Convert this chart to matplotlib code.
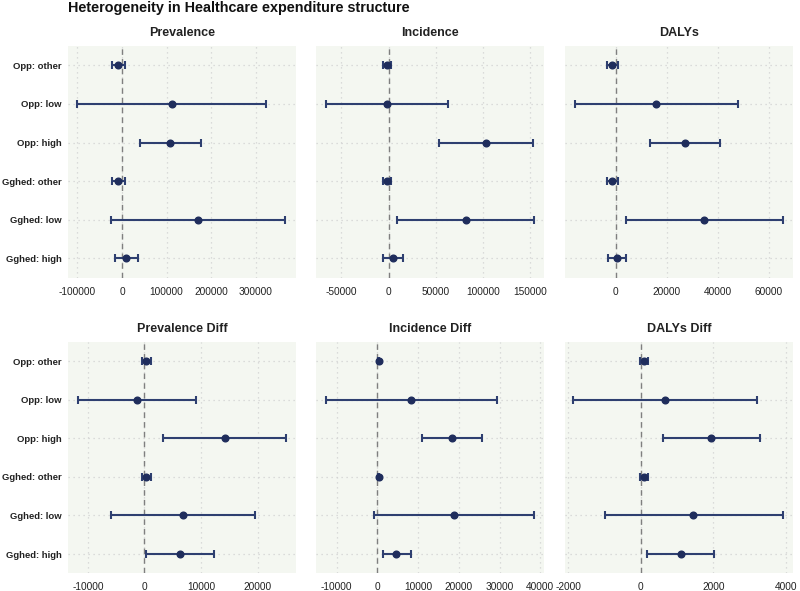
import matplotlib
matplotlib.use("Agg")
import matplotlib.pyplot as plt
import numpy as np

plt.rcParams['font.family'] = ['Liberation Sans', 'DejaVu Sans']

categories = ["Opp: other", "Opp: low", "Opp: high", "Gghed: other", "Gghed: low", "Gghed: high"]

panel_titles = ["Prevalence", "Incidence", "DALYs", "Prevalence Diff", "Incidence Diff", "DALYs Diff"]

prevalence_est = [-9000, 111000, 108000, -9000, 170000, 10000]
prevalence_lo = [-23000, -100000, 40000, -23000, -25000, -15000]
prevalence_hi = [6000, 322000, 177000, 6000, 366000, 37000]

incidence_est = [-2000, -2000, 102900, -2000, 81700, 4900]
incidence_lo = [-6300, -66300, 53900, -6300, 9500, -6300]
incidence_hi = [2400, 63000, 152500, 2400, 153600, 15400]

dalys_est = [-1400, 15900, 27100, -1400, 34700, 650]
dalys_lo = [-3300, -16000, 13400, -3300, 4200, -3000]
dalys_hi = [800, 48000, 40800, 800, 65600, 4200]

prev_diff_est = [350, -1360, 14200, 350, 6800, 6370]
prev_diff_lo = [-470, -11800, 3360, -470, -5900, 350]
prev_diff_hi = [1240, 9200, 25070, 1240, 19500, 12330]

inc_diff_est = [300, 8300, 18300, 300, 18800, 4660]
inc_diff_lo = [150, -12700, 10950, 150, -830, 1370]
inc_diff_hi = [450, 29300, 25770, 450, 38360, 8170]

dalys_diff_est = [93, 657, 1935, 93, 1444, 1093]
dalys_diff_lo = [-28, -1880, 611, -28, -1000, 176]
dalys_diff_hi = [204, 3190, 3270, 204, 3917, 2009]

panels = [
    (prevalence_est, prevalence_lo, prevalence_hi),
    (incidence_est, incidence_lo, incidence_hi),
    (dalys_est, dalys_lo, dalys_hi),
    (prev_diff_est, prev_diff_lo, prev_diff_hi),
    (inc_diff_est, inc_diff_lo, inc_diff_hi),
    (dalys_diff_est, dalys_diff_lo, dalys_diff_hi),
]

xticks = [
    [-100000, 0, 100000, 200000, 300000],
    [-50000, 0, 50000, 100000, 150000],
    [0, 20000, 40000, 60000],
    [-10000, 0, 10000, 20000],
    [-10000, 0, 10000, 20000, 30000, 40000],
    [-2000, 0, 2000, 4000],
]
xlims = [
    (-121000, 390000),
    (-76700, 164500),
    (-19800, 69500),
    (-13500, 26800),
    (-15100, 40900),
    (-2090, 4190),
]

fig = plt.figure(figsize=(8, 5.91), dpi=100)
W, H = 800, 591
col_left = [68, 316, 565]
col_w = 228
row_top = [46, 341.7]
row_h = 231.7

line_col = "#2E3F70"
pt_col = "#1F2D5C"
bg = "#F4F7F1"

ypos = np.arange(len(categories))[::-1] + 1  # top = Opp: other

for i, (est, lo, hi) in enumerate(panels):
    r, c = divmod(i, 3)
    ax = fig.add_axes([col_left[c] / W, 1 - (row_top[r] + row_h) / H, col_w / W, row_h / H])
    ax.set_facecolor(bg)
    for s in ax.spines.values():
        s.set_visible(False)
    est = np.array(est); lo = np.array(lo); hi = np.array(hi)
    ax.axvline(0, color="#7F7F7F", ls=(0, (4, 3)), lw=1.0, zorder=2)
    ax.errorbar(est, ypos, xerr=[est - lo, hi - est], fmt="o", color=pt_col,
                ecolor=line_col, elinewidth=1.5, capsize=3.2, capthick=1.5,
                markersize=4.8, zorder=3)
    ax.set_ylim(0.5, 6.5)
    ax.set_xlim(*xlims[i])
    ax.set_xticks(xticks[i])
    ax.set_xticklabels([str(t) for t in xticks[i]])
    ax.set_yticks(ypos)
    if c == 0:
        ax.set_yticklabels(categories, fontweight="bold", fontsize=6.8)
    else:
        ax.set_yticklabels([])
    ax.tick_params(axis="x", length=0, labelsize=7.3, colors="#222222", pad=6.5)
    ax.tick_params(axis="y", length=0, colors="#222222", pad=4.5)
    ax.grid(True, color="#D2D2D2", ls=(0, (1, 3)), lw=0.9)
    ax.set_axisbelow(True)
    ax.set_title(panel_titles[i], fontsize=9, fontweight="bold", pad=7, color="#222222")

fig.text(68 / W, 1 - 8 / H, "Heterogeneity in Healthcare expenditure structure",
         fontsize=10.4, fontweight="bold", ha="left", va="center", color="#111111")

fig.savefig("out.png", dpi=100)
